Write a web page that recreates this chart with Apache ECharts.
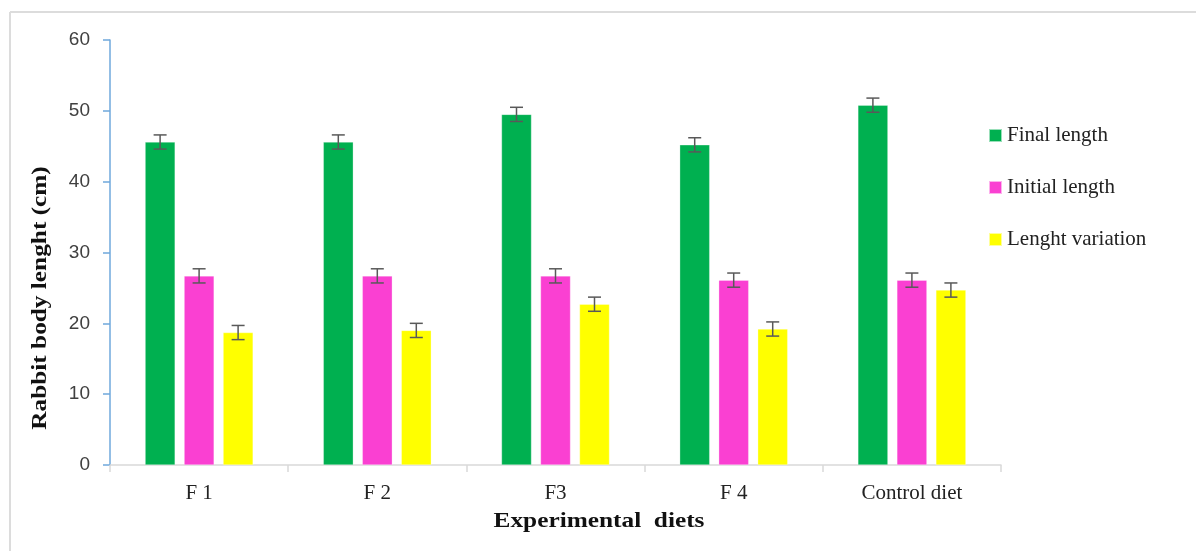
<!DOCTYPE html>
<html>
<head>
<meta charset="utf-8">
<script src="https://cdn.jsdelivr.net/npm/echarts@6/dist/echarts.min.js"></script>
<style>html,body{margin:0;padding:0;background:#fff;}#c{width:1196px;height:551px;}</style>
</head>
<body>
<div id="c"></div>
<script>
const categories = ['F 1', 'F 2', 'F3', 'F 4', 'Control diet'];
const seriesNames = ['Final length', 'Initial length', 'Lenght variation'];
const finalLength = [45.6, 45.6, 49.5, 45.2, 50.8];
const initialLength = [26.7, 26.7, 26.7, 26.1, 26.1];
const lengthVariation = [18.7, 19.0, 22.7, 19.2, 24.7];
const finalErr = [1.0, 1.0, 1.0, 1.0, 1.0];
const initialErr = [1.0, 1.0, 1.0, 1.0, 1.0];
const variationErr = [1.0, 1.0, 1.0, 1.0, 1.0];
const yTicks = [0, 10, 20, 30, 40, 50, 60];

const colors = ['#00B050', '#FA40D2', '#FFFF00'];
const values = [finalLength, initialLength, lengthVariation];
const errs = [finalErr, initialErr, variationErr];
const BAR_W = 30, GAP = 9;

const chart = echarts.init(document.getElementById('c'), null, {renderer: 'canvas'});

const barSeries = values.map((v, i) => ({
  name: seriesNames[i],
  type: 'bar',
  data: v,
  barWidth: BAR_W,
  barGap: (GAP / BAR_W * 100) + '%',
  itemStyle: {color: colors[i], borderColor: 'rgba(255,255,255,0.6)', borderWidth: 0.5},
  z: 2
}));

const errSeries = values.map((v, i) => ({
  type: 'custom',
  name: 'err' + i,
  data: v.map((val, j) => [j, val - errs[i][j], val + errs[i][j]]),
  z: 5,
  silent: true,
  renderItem: function (params, api) {
    const x = api.value(0);
    const lo = api.coord([x, api.value(1)]);
    const hi = api.coord([x, api.value(2)]);
    const off = (i - 1) * (BAR_W + GAP);
    const cx = lo[0] + off;
    const hw = 6.5;
    const st = {stroke: '#595959', lineWidth: 1.5};
    return {
      type: 'group',
      children: [
        {type: 'line', shape: {x1: cx, y1: lo[1], x2: cx, y2: hi[1]}, style: st},
        {type: 'line', shape: {x1: cx - hw, y1: lo[1], x2: cx + hw, y2: lo[1]}, style: st},
        {type: 'line', shape: {x1: cx - hw, y1: hi[1], x2: cx + hw, y2: hi[1]}, style: st}
      ]
    };
  },
  encode: {x: 0, y: [1, 2]}
}));

chart.setOption({
  animation: false,
  backgroundColor: '#fff',
  grid: {left: 110, right: 195, top: 40, bottom: 86, containLabel: false},
  legend: {
    data: seriesNames,
    orient: 'vertical',
    left: 988,
    top: 125,
    padding: 0,
    itemWidth: 13,
    itemHeight: 13,
    itemGap: 31,
    icon: 'rect',
    textStyle: {fontFamily: 'Liberation Serif', fontSize: 21, color: '#222', padding: [0, 0, 0, 0]}
  },
  xAxis: {
    type: 'category',
    data: categories,
    axisLine: {lineStyle: {color: '#d9d9d9', width: 1.5}},
    axisTick: {show: true, length: 7, lineStyle: {color: '#d9d9d9', width: 1.5}},
    axisLabel: {fontFamily: 'Liberation Serif', fontSize: 21, color: '#222', margin: 18}
  },
  yAxis: {
    type: 'value',
    min: yTicks[0],
    max: yTicks[yTicks.length - 1],
    interval: 10,
    splitLine: {show: false},
    axisLine: {show: true, lineStyle: {color: '#6FA8DC', width: 1.5}},
    axisTick: {show: true, length: 7, lineStyle: {color: '#6FA8DC', width: 1.5}},
    axisLabel: {fontFamily: 'Liberation Sans', fontSize: 19, color: '#404040', margin: 20}
  },
  graphic: [
    {type: 'line', shape: {x1: 10, y1: 12, x2: 1196, y2: 12}, style: {stroke: '#dcdcdc', lineWidth: 2}},
    {type: 'line', shape: {x1: 10, y1: 12, x2: 10, y2: 551}, style: {stroke: '#dcdcdc', lineWidth: 2}},
    {type: 'text', x: 599, y: 521, scaleX: 1.15,
      style: {text: 'Experimental  diets', fontFamily: 'Liberation Serif', fontWeight: 'bold', fontSize: 22, fill: '#111', textAlign: 'center', textVerticalAlign: 'middle'}},
    {type: 'text', x: 40, y: 298, rotation: Math.PI / 2, scaleX: 1.15,
      style: {text: 'Rabbit body lenght (cm)', fontFamily: 'Liberation Serif', fontWeight: 'bold', fontSize: 22, fill: '#111', textAlign: 'center', textVerticalAlign: 'middle'}}
  ],
  series: barSeries.concat(errSeries)
});
</script>
</body>
</html>
